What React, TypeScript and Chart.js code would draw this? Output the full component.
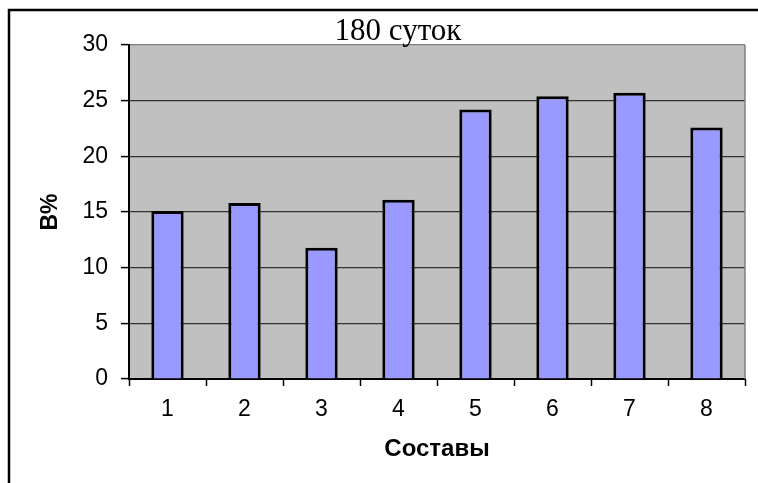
import React, { useEffect, useRef } from "react";
import { Chart, registerables } from "chart.js";

Chart.register(...registerables);

const categories = ["1", "2", "3", "4", "5", "6", "7", "8"];
const values = [15.1, 15.8, 11.8, 16.1, 24.2, 25.4, 25.7, 22.6];
const titleText = "180 суток";
const xTitle = "Составы";
const yTitle = "В%";
const yMin = 0;
const yMax = 30;
const yStep = 5;

const decorPlugin = {
  id: "decor",
  beforeDraw(chart: any) {
    const { ctx, chartArea } = chart;
    const { left, top, right, bottom } = chartArea;
    ctx.save();
    ctx.fillStyle = "#ffffff";
    ctx.fillRect(0, 0, chart.width, chart.height);
    ctx.fillStyle = "#C0C0C0";
    ctx.fillRect(left, top, right - left, bottom - top);
    ctx.restore();
  },
  afterDatasetsDraw(chart: any) {
    const { ctx, chartArea } = chart;
    const { top, right, bottom } = chartArea;
    ctx.save();
    ctx.strokeStyle = "#808080";
    ctx.lineWidth = 1.5;
    ctx.beginPath();
    ctx.moveTo(right, top);
    ctx.lineTo(right, bottom);
    ctx.stroke();
    ctx.restore();
  },
  afterDraw(chart: any) {
    const { ctx } = chart;
    ctx.save();
    ctx.strokeStyle = "#000000";
    ctx.lineWidth = 2.5;
    ctx.beginPath();
    ctx.moveTo(9, chart.height);
    ctx.lineTo(9, 10);
    ctx.lineTo(chart.width, 10);
    ctx.stroke();
    ctx.fillStyle = "#000000";
    ctx.font = "31px 'Liberation Serif', 'Times New Roman', serif";
    ctx.textAlign = "center";
    ctx.textBaseline = "alphabetic";
    ctx.fillText(titleText, 398, 40);
    ctx.restore();
  },
};

export default function App() {
  const ref = useRef<HTMLCanvasElement | null>(null);
  useEffect(() => {
    document.body.style.margin = "0";
    const canvas = ref.current;
    if (!canvas) return;
    const chart = new Chart(canvas, {
      type: "bar",
      data: {
        labels: categories,
        datasets: [
          {
            data: values,
            backgroundColor: "#9999FF",
            borderColor: "#000000",
            borderWidth: 3,
            barPercentage: 0.42,
            categoryPercentage: 1,
          },
        ],
      },
      options: {
        animation: false,
        responsive: false,
        maintainAspectRatio: false,
        layout: { padding: { top: 45, right: 13, left: 0, bottom: 0 } },
        plugins: {
          legend: { display: false },
          tooltip: { enabled: false },
          title: { display: false },
        },
        scales: {
          x: {
            offset: true,
            afterFit(scale: any) {
              scale.height = 104;
            },
            grid: {
              offset: true,
              drawOnChartArea: false,
              drawTicks: true,
              tickLength: 7,
              tickColor: "#000000",
              tickWidth: 1.5,
            },
            border: { display: true, color: "#000000", width: 2 },
            ticks: {
              color: "#000000",
              padding: 10,
              font: { family: "'Liberation Sans', Arial, sans-serif", size: 23 },
            },
            title: {
              display: true,
              text: xTitle,
              color: "#000000",
              font: { family: "'Liberation Sans', Arial, sans-serif", size: 24, weight: "bold" },
              padding: { top: 0, bottom: 19 },
            },
          },
          y: {
            min: yMin,
            max: yMax,
            afterFit(scale: any) {
              scale.width = 129;
            },
            grid: {
              color: (c: any) => (c.tick && c.tick.value === yMax ? "#808080" : "#333333"),
              lineWidth: 1.2,
              drawTicks: true,
              tickLength: 8,
              tickColor: "#000000",
              tickWidth: 1.5,
            },
            border: { display: true, color: "#000000", width: 2 },
            ticks: {
              stepSize: yStep,
              color: "#000000",
              padding: 13,
              font: { family: "'Liberation Sans', Arial, sans-serif", size: 23 },
            },
            title: {
              display: true,
              text: yTitle,
              color: "#000000",
              font: { family: "'Liberation Sans', Arial, sans-serif", size: 23, weight: "bold" },
              padding: { top: 37, bottom: 0 },
            },
          },
        },
      },
      plugins: [decorPlugin],
    });
    return () => chart.destroy();
  }, []);
  return (
    <div style={{ width: 758, height: 483 }}>
      <canvas ref={ref} width={758} height={483} style={{ display: "block" }} />
    </div>
  );
}
